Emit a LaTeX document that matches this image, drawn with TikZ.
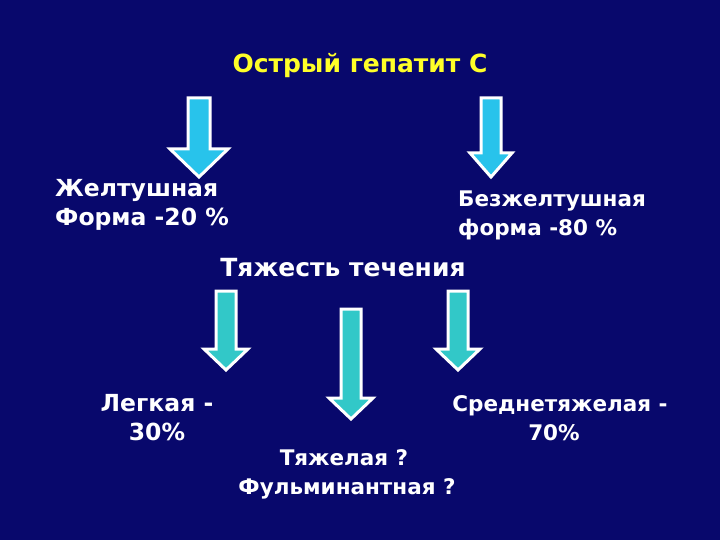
\documentclass[tikz,border=0pt]{standalone}
\usepackage{fontspec}
\setmainfont{DejaVu Sans}
\newfontfamily\bodyfont{DejaVu Sans}
\newfontfamily\titlefont{DejaVu Sans}
\definecolor{bgnavy}{RGB}{8,8,108}
\definecolor{titleyellow}{RGB}{255,255,40}
\definecolor{skyarrow}{RGB}{40,195,235}
\definecolor{tealarrow}{RGB}{50,200,200}
\tikzset{
  txt/.style={text=white, font=\bodyfont\bfseries\fontsize{#1}{29}\selectfont, inner sep=0pt},
  txt/.default=22,
  blockarrow/.style={draw=white, line width=3pt, line join=miter},
}
% #1 cx, #2 top, #3 head base, #4 tip, #5 shaft half, #6 head half, #7 color
\newcommand\blockarr[7]{%
  \draw[blockarrow, fill=#7] (#1-#5,#2) -- (#1+#5,#2) -- (#1+#5,#3) -- (#1+#6,#3)
    -- (#1,#4) -- (#1-#6,#3) -- (#1-#5,#3) -- cycle;}
\begin{document}
\begin{tikzpicture}[x=1pt,y=-1pt]
\fill[bgnavy] (0,0) rectangle (720,540);
\useasboundingbox (0,0) rectangle (720,540);

\node[text=titleyellow, font=\titlefont\bfseries\fontsize{25}{30}\selectfont, inner sep=0pt] (title) at (360,66) {Острый гепатит С};

\blockarr{199}{98}{149}{177}{11}{29}{skyarrow}
\blockarr{491}{98}{153}{177}{10}{21}{skyarrow}

\node[txt=23.5, anchor=west, align=left] (jelt) at (55,205) {Желтушная\\Форма -20 \%};
\node[txt=21.5, anchor=west, align=left] (bezj) at (458,215) {Безжелтушная\\форма -80 \%};

\node[txt=25] (tyazh) at (343,268) {Тяжесть течения};

\blockarr{226}{291}{349}{370}{10}{22}{tealarrow}
\blockarr{351}{309}{398}{419}{10}{22}{tealarrow}
\blockarr{458}{291}{349}{370}{10}{22}{tealarrow}

\node[txt=23.5, align=center] (legk) at (157,418) {Легкая -\\30\%};
\node[txt=21.5, align=center] (sred) at (560,418) {Среднетяжелая -\\70\%\kern12pt};
\node[txt=21.5, align=center] (tyazhel) at (347,474) {Тяжелая ?\kern6pt\\Фульминантная ?};
\end{tikzpicture}
\end{document}
